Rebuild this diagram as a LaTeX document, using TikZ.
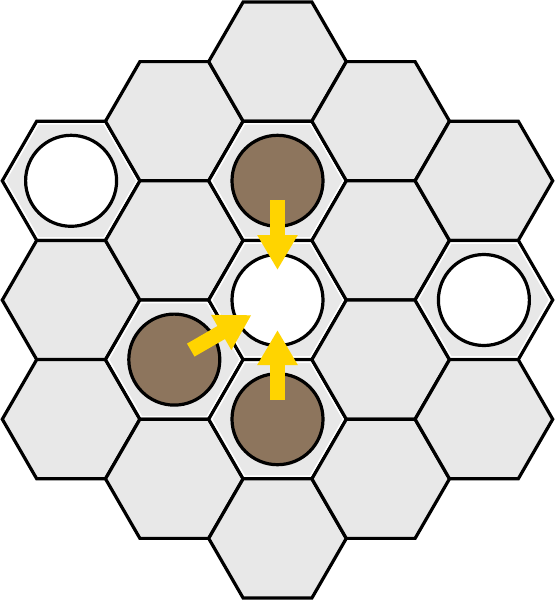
\documentclass[tikz,border=0pt]{standalone}
\usetikzlibrary{shapes.geometric,arrows.meta}
\definecolor{cellgrey}{RGB}{232,232,232}
\definecolor{stonebrown}{RGB}{141,117,93}
\definecolor{pushyellow}{RGB}{255,212,0}
\begin{document}
\begin{tikzpicture}[x=1pt,y=-1pt,
    hexcell/.style={regular polygon,regular polygon sides=6,minimum size=137.6pt,inner sep=0pt,outer sep=0pt,draw=black,line width=3.2pt,fill=cellgrey},
    homerim/.style={regular polygon,regular polygon sides=6,minimum size=131.4pt,inner sep=0pt,draw=white,line width=1.4pt},
    stone/.style={circle,minimum size=91pt,inner sep=0pt,draw=black,line width=3.2pt,fill=#1},
    push/.style={draw=pushyellow,line width=15pt,-{Triangle[length=35pt,width=38pt]},shorten <=19pt,shorten >=30pt}]
    \useasboundingbox (0,0) rectangle (555,600);
    % board
    \foreach \col/\n in {-2/3,-1/4,0/5,1/4,2/3}
      \foreach \k in {1,...,\n}
        \node[hexcell] (h\col-\k) at ({277.5+103.2*\col},{300+119.2*(\k-(\n+1)/2)}) {};
    \foreach \c in {-2-1,2-2,0-2,0-3,0-4,-1-3}
      \node[homerim] (r\c) at (h\c) {};
    % stones
    \node[stone=white] (w1) at (h-2-1) {};
    \node[stone=white] (w2) at (h0-3) {};
    \node[stone=white] (w3) at (h2-2) {};
    \node[stone=stonebrown] (b1) at (h0-2) {};
    \node[stone=stonebrown] (b2) at (h-1-3) {};
    \node[stone=stonebrown] (b3) at (h0-4) {};
    % moves
    \draw[push] (b1.center) -- (w2.center);
    \draw[push] (b2.center) -- (w2.center);
    \draw[push] (b3.center) -- (w2.center);
\end{tikzpicture}
\end{document}
